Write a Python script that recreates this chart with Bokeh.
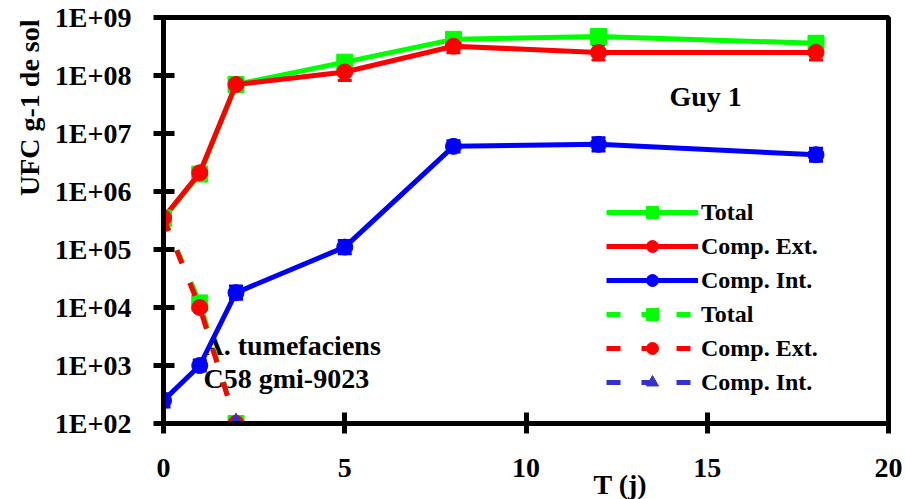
import math
from bokeh.plotting import figure
from bokeh.models import (FixedTicker, CustomJSTickFormatter, Legend, LegendItem,
                          Label, Whisker, ColumnDataSource, TeeHead, Title)
from bokeh.embed import file_html
from bokeh.resources import INLINE

# ---------------- data ----------------
days = [0, 1, 2, 5, 8, 12, 18]
total = [3.5e5, 2.0e6, 7.0e7, 1.7e8, 4.2e8, 4.7e8, 3.6e8]
comp_ext = [3.5e5, 2.1e6, 7.0e7, 1.15e8, 3.2e8, 2.5e8, 2.5e8]
comp_int = [2.5e2, 1.0e3, 1.8e4, 1.1e5, 6.0e6, 6.5e6, 4.3e6]
# multiplicative error factors (value*f upper, value/f lower)
err_ext = [1.2, 1.2, 1.2, 1.4, 1.3, 1.35, 1.35]
err_int = [1.3, 1.25, 1.3, 1.3, 1.25, 1.3, 1.3]

days_b = [0, 1, 2]
total_b = [3.5e5, 1.2e4, 1.0e2]
ext_b = [3.5e5, 1.0e4, 1.0e2]
days_bi = [2]
int_b = [1.0e2]

x_ticks = [0, 5, 10, 15, 20]
y_ticks = [1e2, 1e3, 1e4, 1e5, 1e6, 1e7, 1e8, 1e9]

GREEN = "#00FF00"
RED = "#FF0000"
BLUE = "#0000FF"
BLUE2 = "#3333CC"
FONT = "Liberation Serif"

p = figure(frame_width=725, frame_height=406, x_range=(0, 20), y_range=(1e2, 1e9),
           y_axis_type="log", output_backend="svg", toolbar_location=None,
           min_border_left=163, min_border_right=17, min_border_top=17, min_border_bottom=76)

p.xgrid.visible = False
p.ygrid.visible = False
p.outline_line_color = "black"
p.outline_line_width = 5

for ax in (p.xaxis[0], p.yaxis[0]):
    ax.axis_line_width = 5
    ax.axis_line_color = "black"
    ax.major_tick_line_color = "black"
    ax.major_tick_line_width = 5
    ax.major_tick_in = 11
    ax.major_tick_out = 10
    ax.minor_tick_line_color = None
    ax.major_label_text_font = FONT
    ax.major_label_text_font_style = "bold"
    ax.major_label_text_font_size = "28px"
    ax.major_label_text_color = "black"

p.xaxis.ticker = FixedTicker(ticks=x_ticks)
p.xaxis.major_label_standoff = 25
p.yaxis.ticker = FixedTicker(ticks=y_ticks)
p.yaxis.major_label_standoff = 22
p.yaxis.formatter = CustomJSTickFormatter(code="""
    const e = Math.round(Math.log10(tick));
    return "1E+" + String(e).padStart(2, "0");
""")

# text labels drawn beneath the lines
for txt, x, y in [("A. tumefaciens", 40, 78), ("C58 gmi-9023", 40, 45)]:
    p.add_layout(Label(x=x, y=y, x_units="screen", y_units="screen", text=txt,
                       text_font=FONT, text_font_style="bold", text_font_size="28px",
                       text_color="black",
                       text_align="left", text_baseline="alphabetic", level="underlay"))

LW = 5
MS = 16
# solid series
g_line = p.line(days, total, line_color=GREEN, line_width=LW)
g_mark = p.scatter(days, total, marker="square", size=MS, fill_color=GREEN, line_color=GREEN)

def whisk(vals, errs, color):
    src = ColumnDataSource(dict(x=days,
                                lo=[v / f for v, f in zip(vals, errs)],
                                hi=[v * f for v, f in zip(vals, errs)]))
    w = Whisker(base="x", lower="lo", upper="hi", source=src, line_color=color, line_width=3,
                upper_head=TeeHead(size=14, line_color=color, line_width=3),
                lower_head=TeeHead(size=14, line_color=color, line_width=3))
    p.add_layout(w)

r_line = p.line(days, comp_ext, line_color=RED, line_width=LW)
r_mark = p.scatter(days, comp_ext, marker="circle", size=MS, fill_color=RED, line_color=RED)
whisk(comp_ext, err_ext, RED)

b_line = p.line(days, comp_int, line_color=BLUE, line_width=LW)
b_mark = p.scatter(days, comp_int, marker="circle", size=MS, fill_color=BLUE, line_color=BLUE)
whisk(comp_int, err_int, BLUE)

# dashed series
DASH = "14 21"
gd_line = p.line(days_b, total_b, line_color=GREEN, line_width=LW, line_dash=DASH)
gd_mark = p.scatter(days_b, total_b, marker="square", size=MS, fill_color=GREEN, line_color=GREEN)
rd_line = p.line(days_b, ext_b, line_color=RED, line_width=LW, line_dash=DASH)
rd_mark = p.scatter(days_b, ext_b, marker="circle", size=MS, fill_color=RED, line_color=RED)
bd_line = p.line(days_bi, int_b, line_color=BLUE2, line_width=LW, line_dash=DASH)
bd_mark = p.scatter(days_bi, int_b, marker="triangle", size=18, fill_color=BLUE2, line_color=BLUE2)

legend = Legend(items=[
    LegendItem(label="Total", renderers=[g_line, g_mark]),
    LegendItem(label="Comp. Ext.", renderers=[r_line, r_mark]),
    LegendItem(label="Comp. Int.", renderers=[b_line, b_mark]),
    LegendItem(label="Total", renderers=[gd_line, gd_mark]),
    LegendItem(label="Comp. Ext.", renderers=[rd_line, rd_mark]),
    LegendItem(label="Comp. Int.", renderers=[bd_line, bd_mark]),
], location=(443, 26), border_line_alpha=0, background_fill_alpha=0, padding=0, margin=0,
   spacing=4, glyph_width=92, glyph_height=30, label_height=30, label_standoff=3,
   label_text_font=FONT, label_text_font_style="bold", label_text_font_size="24px",
   label_text_color="black", label_text_baseline="middle")
p.add_layout(legend)

# other texts
p.add_layout(Label(x=506, y=327, x_units="screen", y_units="screen", text="Guy 1",
                   text_font=FONT, text_font_style="bold", text_font_size="28px",
                   text_color="black", text_align="left", text_baseline="alphabetic"))

p.add_layout(Title(text="T (j)", align="left", offset=430, standoff=-25,
                   text_font=FONT, text_font_style="bold", text_font_size="28px",
                   text_color="black"), "below")
p.add_layout(Title(text="UFC g-1 de sol", align="right", offset=2, standoff=14,
                   text_font=FONT, text_font_style="bold", text_font_size="28px",
                   text_color="black"), "left")

open("out.html", "w").write(file_html(p, INLINE))
